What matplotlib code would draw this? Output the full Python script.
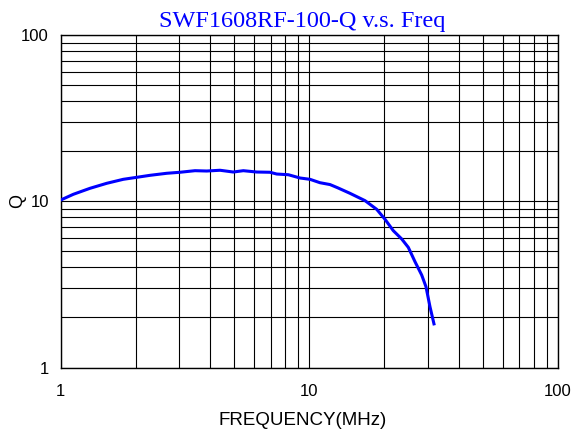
import numpy as np
import matplotlib
matplotlib.use("Agg")
import matplotlib.pyplot as plt
from matplotlib.ticker import LogLocator, NullFormatter

# Data
freq = [1.0, 1.124, 1.311, 1.531, 1.785, 2.022, 2.286, 2.669, 3.018, 3.468,
        3.866, 4.372, 4.944, 5.426, 6.142, 6.945, 7.39, 8.23, 9.17, 10.06,
        11.03, 12.11, 13.0, 14.57, 16.75, 18.66, 20.15, 21.76, 23.52, 25.0,
        26.6, 28.3, 29.45, 30.56, 31.71]
q_val = [10.17, 11.01, 11.96, 12.82, 13.55, 13.93, 14.32, 14.73, 14.94, 15.27,
         15.2, 15.36, 14.99, 15.27, 14.99, 14.94, 14.58, 14.44, 13.8, 13.55,
         12.93, 12.6, 12.05, 11.16, 10.08, 8.94, 7.79, 6.65, 5.93, 5.28,
         4.33, 3.6, 3.06, 2.32, 1.83]

major_ticks = [1, 10, 100]
major_labels = ["1", "10", "100"]

fig = plt.figure(figsize=(5.83, 4.37), dpi=100)
ax = fig.add_axes([60.7 / 583, 1 - 367.5 / 437, 497.3 / 583, 332.5 / 437])

ax.plot(freq, q_val, color="#0000FF", lw=2.2, zorder=3)

ax.set_xscale("log")
ax.set_yscale("log")
ax.set_xlim(1, 100)
ax.set_ylim(1, 100)

for axis in (ax.xaxis, ax.yaxis):
    axis.set_minor_locator(LogLocator(base=10, subs=np.arange(2, 10)))
    axis.set_minor_formatter(NullFormatter())
ax.set_xticks(major_ticks, major_labels)
ax.set_yticks(major_ticks, major_labels)

ax.grid(True, which="both", color="black", lw=0.8)
ax.tick_params(axis="both", which="both", length=0)
ax.tick_params(axis="x", pad=12, labelsize=12)
ax.tick_params(axis="y", pad=8.5, labelsize=12)
for lab in ax.get_xticklabels() + ax.get_yticklabels():
    lab.set_fontfamily("Liberation Sans")

for sp in ax.spines.values():
    sp.set_color("black")
    sp.set_linewidth(1.0)

ax.set_xlabel("FREQUENCY(MHz)", fontsize=13.5, family="Liberation Sans",
              labelpad=9.5, x=0.487)
ax.set_ylabel("Q", fontsize=13, family="Liberation Sans")
ax.yaxis.set_label_coords(-0.0704, 0.5)
ax.set_title("SWF1608RF-100-Q v.s. Freq", color="#0000FF", fontsize=17.5,
             family="Liberation Serif", x=0.485, pad=6)

fig.savefig("out.png", dpi=100)
